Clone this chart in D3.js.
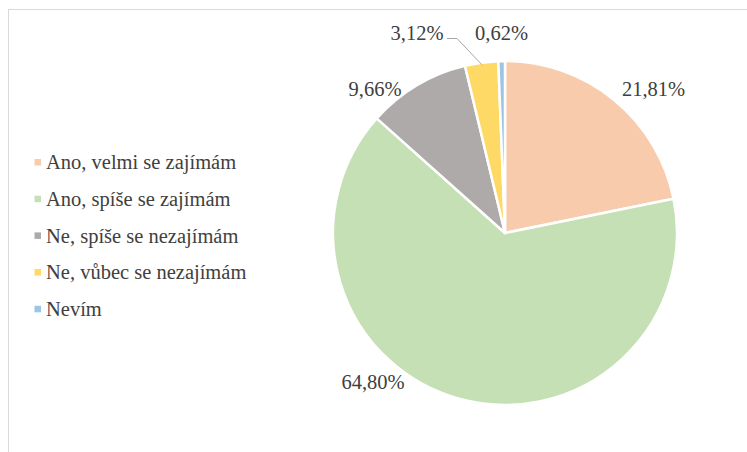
<!DOCTYPE html>
<html><head><meta charset="utf-8">
<script src="https://cdn.jsdelivr.net/npm/d3@7"></script>
<style>body{margin:0;background:#fff}svg{display:block}</style>
</head><body>
<script>
const categories = ["Ano, velmi se zajímám","Ano, spíše se zajímám","Ne, spíše se nezajímám","Ne, vůbec se nezajímám","Nevím"];
const values = [21.81, 64.80, 9.66, 3.12, 0.62];
const valueLabels = ["21,81%","64,80%","9,66%","3,12%","0,62%"];
const colors = ["#F8CBAD","#C5E0B4","#AEAAAA","#FFD966","#9DC3E6"];

const FONT = "'Liberation Serif'";
const W = 747, H = 452;
const svg = d3.select("body").append("svg").attr("width", W).attr("height", H);
svg.append("rect").attr("x", 8.5).attr("y", 9.5).attr("width", W).attr("height", H)
  .attr("fill", "#fff").attr("stroke", "#d9d9d9").attr("stroke-width", 1);

const cx = 505, cy = 233, r = 172;
const pie = d3.pie().sort(null).value(d => d)(values);
const arc = d3.arc().innerRadius(0).outerRadius(r);
const g = svg.append("g").attr("transform", `translate(${cx},${cy})`);
g.selectAll("path").data(pie).join("path")
  .attr("d", arc).attr("fill", (d, i) => colors[i])
  .attr("stroke", "#fff").attr("stroke-width", 2.5).attr("stroke-linejoin", "round");

const labelPos = [
  {x: 653.5, y: 96},
  {x: 373, y: 389},
  {x: 375, y: 96},
  {x: 417, y: 40},
  {x: 501.5, y: 40}
];
svg.selectAll("text.lbl").data(valueLabels).join("text")
  .attr("class", "lbl")
  .attr("x", (d, i) => labelPos[i].x).attr("y", (d, i) => labelPos[i].y)
  .attr("text-anchor", "middle")
  .style("font-family", FONT).style("font-size", "20.5px")
  .attr("fill", "#404040").text(d => d);

const yc = pie[3];
const mid = (yc.startAngle + yc.endAngle) / 2;
const ex = cx + Math.sin(mid) * (r - 2), ey = cy - Math.cos(mid) * (r - 2);
svg.append("polyline")
  .attr("points", `447,38.5 457,38.5 ${ex},${ey}`)
  .attr("fill", "none").attr("stroke", "#a6a6a6").attr("stroke-width", 1);

const lg = svg.append("g");
const rows = lg.selectAll("g").data(categories).join("g")
  .attr("transform", (d, i) => `translate(34.5,${162.5 + i * 36.7})`);
rows.append("rect").attr("x", 0).attr("y", -3.5).attr("width", 6.5).attr("height", 6.5)
  .attr("fill", (d, i) => colors[i]);
rows.append("text").attr("x", 11.5).attr("y", 6.8)
  .style("font-family", FONT).style("font-size", "20.5px")
  .attr("fill", "#404040").text(d => d);
</script>
</body></html>
